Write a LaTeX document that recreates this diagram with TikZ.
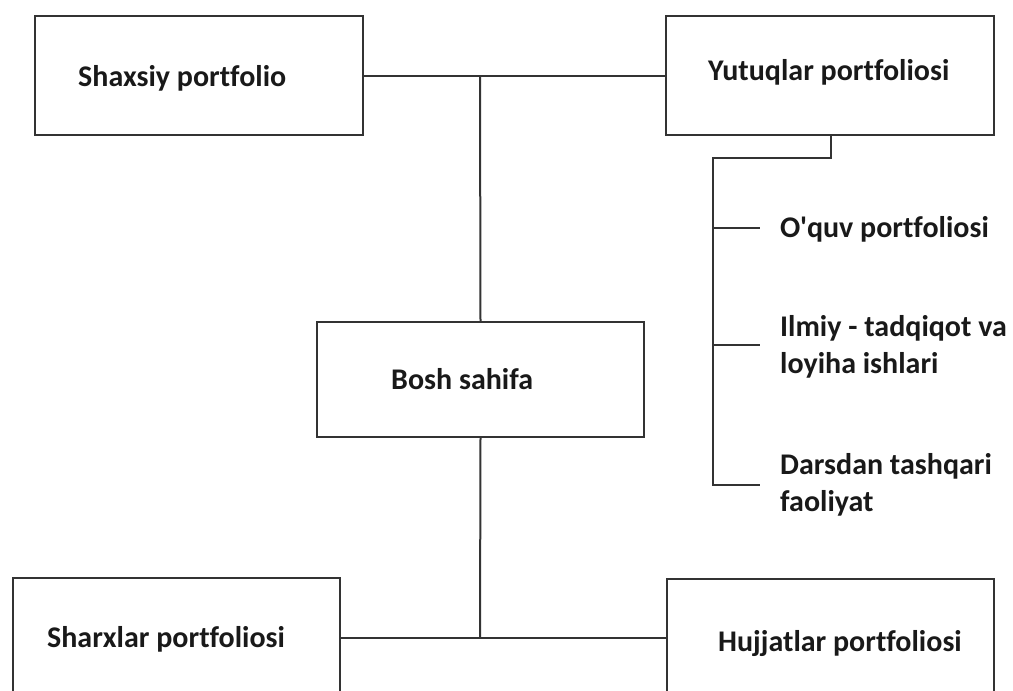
\documentclass[tikz,border=0pt]{standalone}
\usepackage{fontspec}
\newfontfamily\carl{Carlito}[Ligatures=NoCommon]
\definecolor{linec}{HTML}{333333}
\tikzset{
  box/.style={draw=linec, line width=2pt, rectangle, inner sep=0pt},
  lbl/.style={font=\carl\bfseries\fontsize{30}{37}\selectfont, text=black!90, inner sep=0pt, anchor=base west, align=left},
  conn/.style={draw=linec, line width=2pt}
}
\begin{document}
\begin{tikzpicture}[x=1pt,y=-1pt]
\useasboundingbox (0,0) rectangle (1013,691);
\clip (0,0) rectangle (1013,691);
% boxes
\node[box, minimum width=328pt, minimum height=119pt] (shaxsiy) at (199,75.5) {};
\node[box, minimum width=328pt, minimum height=119pt] (yutuq) at (830,75.5) {};
\node[box, minimum width=327pt, minimum height=115pt] (bosh) at (480.5,379.5) {};
\node[box, minimum width=327pt, minimum height=119pt] (sharx) at (176.5,637.5) {};
\node[box, minimum width=327pt, minimum height=119pt] (hujjat) at (830.5,638.5) {};
% box texts
\node[lbl] (shaxsiyT) at (78,86) {Shaxsiy portfolio};
\node[lbl] (yutuqT) at (708,80) {Yutuqlar portfoliosi};
\node[lbl] (boshT) at (391,389) {Bosh sahifa};
\node[lbl] (sharxT) at (47,647) {Sharxlar portfoliosi};
\node[lbl] (hujjatT) at (718,651) {Hujjatlar portfoliosi};
% list items
\node[lbl] (oquv) at (780,237) {O'quv portfoliosi};
\node[lbl] (ilmiy) at (780,373) {Ilmiy - tadqiqot va\\loyiha ishlari};
\node[lbl] (dars) at (780,511) {Darsdan tashqari\\faoliyat};
% coordinates
\coordinate (j1) at (480,75.5);
\coordinate (j2) at (480,637.5);
\coordinate (ya) at (831,158);
\coordinate (yb) at (713,158);
\coordinate (b1) at (713,228);
\coordinate (b1e) at (760,228);
\coordinate (b2) at (713,345);
\coordinate (b2e) at (760,345);
\coordinate (b3) at (713,485);
\coordinate (b3e) at (760,485);
% connectors
\draw[conn] (shaxsiy.east) -- (yutuq.west);
\draw[conn] (j1) -- (bosh.north);
\draw[conn] (bosh.south) -- (j2);
\draw[conn] (sharx.east) -- (sharx.east -| hujjat.west);
\draw[conn] (yutuq.south -| ya) -- (ya) -- (yb) -- (b3) -- (b3e);
\draw[conn] (b1) -- (b1e);
\draw[conn] (b2) -- (b2e);
\end{tikzpicture}
\end{document}
